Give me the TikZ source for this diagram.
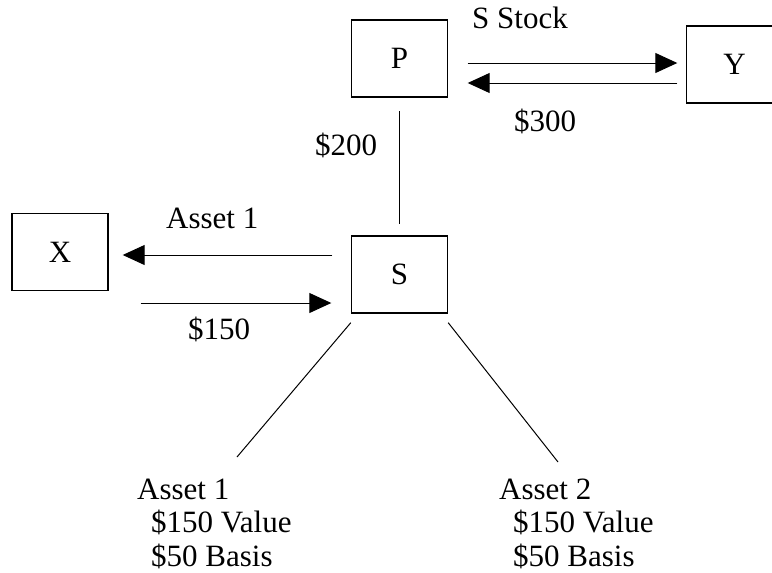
\documentclass[tikz,border=0pt]{standalone}
\usepackage{fontspec}
\setmainfont{Liberation Serif}
\usetikzlibrary{arrows.meta}
\begin{document}
\begin{tikzpicture}[x=1pt,y=-1pt,
  every node/.style={font=\fontsize{31}{33.2}\selectfont},
  entity/.style={draw, line width=1.4pt, minimum width=96pt, minimum height=77pt, inner sep=0pt},
  flow/.style={line width=1pt, -{Triangle[length=22pt,width=20pt]}},
  link/.style={line width=1pt},
  lbl/.style={anchor=base west, inner sep=0pt},
  holding/.style={anchor=north west, inner sep=0pt, align=left}]
  \useasboundingbox (0,0) rectangle (772,573);

  % corporations and shareholders
  \node[entity] (P) at (399.5,58.5) {P};
  \node[entity] (S) at (399.5,274.5) {S};
  \node[entity] (X) at (60,252) {X};
  \node[entity] (Y) at (734.5,64.5) {Y};

  % P <-> Y exchange
  \draw[flow, shorten <=19.5pt, shorten >=8.5pt]
    ([yshift=-4.5pt]P.east) -- ([yshift=-4.5pt]P.east -| Y.west);
  \draw[flow, shorten <=8.5pt, shorten >=19.5pt]
    ([yshift=-24.5pt]P.east -| Y.west) -- ([yshift=-24.5pt]P.east);
  \node[lbl] (stock) at (472,28) {S Stock};
  \node[lbl] (cash300) at (514,131) {\$300};

  % P owns S
  \draw[link, shorten <=13.5pt, shorten >=11pt] (P.south) -- (S.north);
  \node[lbl] (cash200) at (315,155) {\$200};

  % S <-> X exchange
  \draw[flow, shorten <=18.5pt, shorten >=14pt]
    ([yshift=19.5pt]S.west) -- ([yshift=19.5pt]S.west -| X.east);
  \draw[flow, shorten <=32pt, shorten >=19.5pt]
    ([yshift=-28.5pt]S.west -| X.east) -- ([yshift=-28.5pt]S.west);
  \node[lbl] (assetlbl) at (166,228) {Asset 1};
  \node[lbl] (cash150) at (188,339) {\$150};

  % assets held by S
  \coordinate (a1) at (237,457);
  \coordinate (a2) at (558,462);
  \draw[link] ([yshift=-9pt]S.south west) -- (a1);
  \draw[link] ([yshift=-9pt]S.south east) -- (a2);
  \node[holding] (asset1) at (137,479)
    {Asset 1\\\hspace*{14pt}\$150 Value\\\hspace*{14pt}\$50 Basis};
  \node[holding] (asset2) at (499,479)
    {Asset 2\\\hspace*{14pt}\$150 Value\\\hspace*{14pt}\$50 Basis};
\end{tikzpicture}
\end{document}
